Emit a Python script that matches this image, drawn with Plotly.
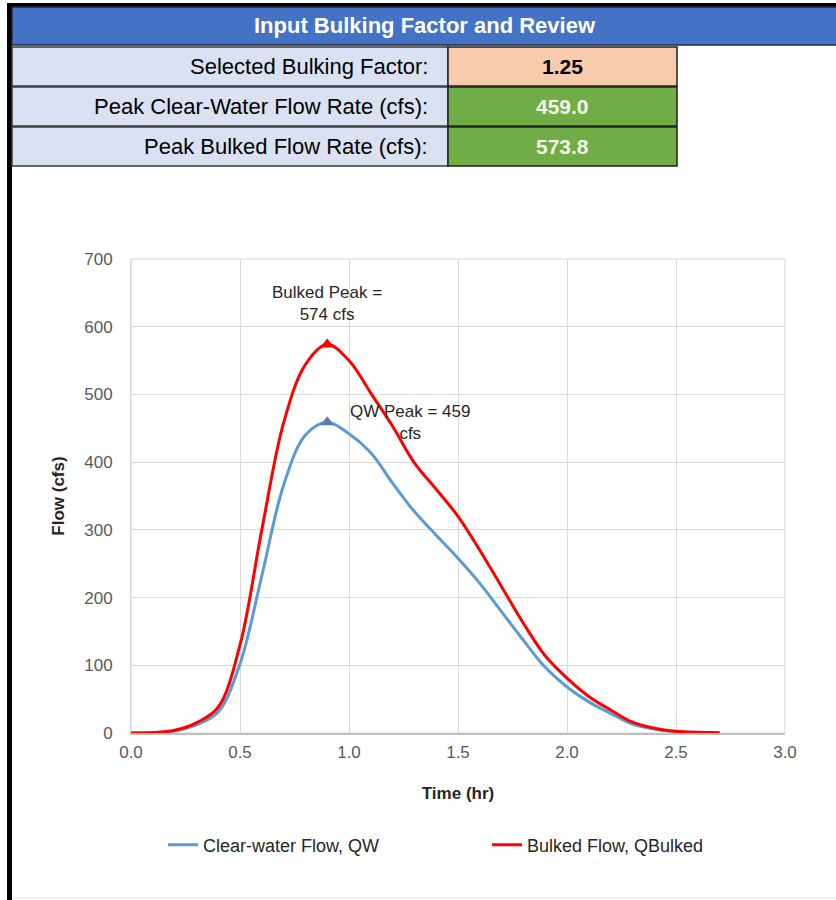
import plotly.graph_objects as go

# hydrograph (time step 0.1 hr)
time_hr = [0.0, 0.1, 0.2, 0.3, 0.4, 0.5, 0.6, 0.7, 0.8, 0.9,
           1.0, 1.1, 1.2, 1.3, 1.4, 1.5, 1.6, 1.7, 1.8, 1.9,
           2.0, 2.1, 2.2, 2.3, 2.4, 2.5, 2.6, 2.7]
flow_clear = [0, 0.5, 3, 12, 31, 102, 232, 366, 440, 459,
              442, 414, 369, 327, 292, 258, 221, 179, 137, 97,
              68, 46, 29, 13, 6, 2, 0.8, 0.2]
flow_bulked = [0, 0.6, 4, 15, 38, 130, 300, 458, 544, 574,
               550, 502, 453, 399, 360, 320, 270, 216, 162, 114,
               81, 54, 34, 16, 7, 2.5, 1, 0.3]

peak_time = 0.9
peak_clear = 459.0
peak_bulked = 573.8
bulking_factor = 1.25

table_title = "Input Bulking Factor and Review"
table_labels = ["Selected Bulking Factor:",
                "Peak Clear-Water Flow Rate (cfs):",
                "Peak Bulked Flow Rate (cfs):"]
table_values = [f"{bulking_factor:.2f}", f"{peak_clear:.1f}", f"{peak_bulked:.1f}"]

W, H = 836, 900
L, R, T, B = 131, 785, 259, 733
FONT = "Liberation Sans Narrow, Arial Narrow, Liberation Sans, Arial, sans-serif"


def fx(px):
    return (px - L) / (R - L)


def fy(py):
    return (B - py) / (B - T)


fig = go.Figure()
fig.add_trace(go.Scatter(x=time_hr, y=flow_clear, mode="lines", name="Clear-water Flow, QW",
                         line=dict(color="#5B9BD5", width=3, shape="spline", smoothing=1.0)))
fig.add_trace(go.Scatter(x=time_hr, y=flow_bulked, mode="lines", name="Bulked Flow, QBulked",
                         line=dict(color="#FF0000", width=3, shape="spline", smoothing=1.0)))
fig.add_trace(go.Scatter(x=[peak_time], y=[peak_clear], mode="markers", showlegend=False,
                         marker=dict(symbol="triangle-up", size=12, color="#5E7CA6")))
fig.add_trace(go.Scatter(x=[peak_time], y=[peak_bulked], mode="markers", showlegend=False,
                         marker=dict(symbol="triangle-up", size=12, color="#FF0000")))

shapes = []
annos = []

# frame lines
shapes.append(dict(type="rect", xref="paper", yref="paper", x0=fx(7), x1=fx(12), y0=fy(900), y1=fy(3),
                   fillcolor="black", line=dict(width=0)))
shapes.append(dict(type="rect", xref="paper", yref="paper", x0=fx(7), x1=fx(836), y0=fy(7), y1=fy(3),
                   fillcolor="black", line=dict(width=0)))
shapes.append(dict(type="line", xref="paper", yref="paper", x0=fx(12), x1=fx(836), y0=fy(898), y1=fy(898),
                   line=dict(color="#E0E0E0", width=1)))

# header bar
shapes.append(dict(type="rect", xref="paper", yref="paper", x0=fx(12), x1=fx(837), y0=fy(45), y1=fy(7),
                   fillcolor="#4472C4", line=dict(color="#1F2A44", width=1.5)))
annos.append(dict(xref="paper", yref="paper", x=fx(425), y=fy(25), xanchor="center", yanchor="middle",
                  text=f"<b>{table_title}</b>", showarrow=False,
                  font=dict(family=FONT, size=22, color="white")))

row_edges = [(47, 86), (87, 126), (127, 166)]
value_fills = ["#F8CBAD", "#70AD47", "#70AD47"]
value_colors = ["black", "#F4F8E8", "#F4F8E8"]
for (y0, y1), lab, val, fill, col in zip(row_edges, table_labels, table_values, value_fills, value_colors):
    shapes.append(dict(type="rect", xref="paper", yref="paper", x0=fx(12), x1=fx(448), y0=fy(y1), y1=fy(y0),
                       fillcolor="#D9E1F2", line=dict(color="#3A3A3A", width=1.5)))
    shapes.append(dict(type="rect", xref="paper", yref="paper", x0=fx(448), x1=fx(677), y0=fy(y1), y1=fy(y0),
                       fillcolor=fill, line=dict(color="#1F1F1F", width=1.5)))
    annos.append(dict(xref="paper", yref="paper", x=fx(430), y=fy((y0 + y1) / 2), xanchor="right",
                      yanchor="middle", text=lab, showarrow=False,
                      font=dict(family=FONT, size=22, color="black")))
    annos.append(dict(xref="paper", yref="paper", x=fx(562), y=fy((y0 + y1) / 2), xanchor="center",
                      yanchor="middle", text=f"<b>{val}</b>", showarrow=False,
                      font=dict(family=FONT, size=21, color=col)))

# plot area border (grid colour)
shapes.append(dict(type="rect", xref="paper", yref="paper", x0=0, x1=1, y0=0, y1=1,
                   line=dict(color="#D9D9D9", width=1), layer="below"))

# peak labels
annos.append(dict(x=peak_time, y=634, text=f"Bulked Peak =<br>{peak_bulked:.0f} cfs", showarrow=False,
                  font=dict(family=FONT, size=17, color="#262626")))
annos.append(dict(x=1.28, y=459, text=f"QW Peak = {peak_clear:.0f}<br>cfs", showarrow=False,
                  font=dict(family=FONT, size=17, color="#262626")))

fig.update_layout(
    width=W, height=H,
    margin=dict(l=L, r=W - R, t=T, b=H - B),
    paper_bgcolor="white", plot_bgcolor="white",
    font=dict(family=FONT, size=16, color="#595959"),
    shapes=shapes, annotations=annos,
    legend=dict(orientation="h", x=fx(163), xanchor="left", y=fy(845), yanchor="middle",
                entrywidth=279, entrywidthmode="pixels",
                font=dict(family=FONT, size=18, color="#262626"), bgcolor="rgba(0,0,0,0)"),
)
fig.update_xaxes(range=[0, 3], dtick=0.5, tickformat=".1f", showgrid=True, gridcolor="#D9D9D9",
                 zeroline=False, showline=True, linecolor="#BFBFBF", linewidth=1.5,
                 ticklabelstandoff=3, tickfont=dict(size=17, color="#595959"),
                 title=dict(text="<b>Time (hr)</b>", standoff=26, font=dict(size=17, color="#262626")))
fig.update_yaxes(range=[0, 700], dtick=100, showgrid=True, gridcolor="#D9D9D9",
                 zeroline=False, showline=True, linecolor="#D9D9D9",
                 ticklabelstandoff=14, tickfont=dict(size=17, color="#595959"),
                 title=dict(text="<b>Flow (cfs)</b>", standoff=15, font=dict(size=17, color="#262626")))

# page body margin removed so the figure sits at the window origin
fig.write_html("out.html", config={"displayModeBar": False},
               post_script="document.body.style.margin='0';")
